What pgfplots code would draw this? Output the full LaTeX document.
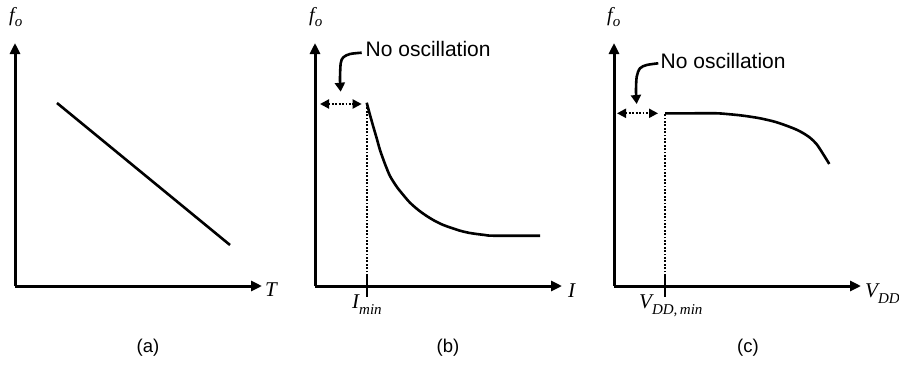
\documentclass[border=0pt]{standalone}
\usepackage{fontspec}
\setmainfont{Liberation Sans}
\newfontfamily\tms{Liberation Serif}
\usepackage{pgfplots}
\pgfplotsset{compat=1.18}
\usetikzlibrary{arrows.meta}
\pgfplotsset{panel/.style={
  x=1pt, y=1pt, xmin=0, xmax=247, ymin=0, ymax=243,
  axis lines*=left,
  axis line style={line width=3pt, -{Triangle[length=11pt,width=10pt]}},
  ytick=\empty, xtick=\empty, clip=false, anchor=south west,
  tick align=center, major tick length=21pt, xticklabels={},
  xtick style={line width=2.8pt, black},
}}
\tikzset{
  curve/.style={line width=2.6pt, black},
  dotv/.style={line width=2pt, dash pattern=on 1.8pt off 1.6pt},
  tip/.style={-{Triangle[length=9pt,width=10pt]}},
  dtip/.style={{Triangle[length=9pt,width=9pt]}-{Triangle[length=9pt,width=9pt]}},
}
\newcommand\fo{{\tms\itshape\fontsize{20}{20}\selectfont f\raisebox{-5pt}{\fontsize{15}{15}\selectfont o}}}
\newcommand\bigit[1]{{\tms\itshape\fontsize{21}{21}\selectfont #1}}
\newcommand\subit[1]{\raisebox{-6pt}{\tms\itshape\fontsize{15}{15}\selectfont #1}}
\newcommand\noosc{{\fontsize{21}{24}\selectfont No oscillation}}
\newcommand\plab[1]{{\fontsize{18.5}{20}\selectfont #1}}
\begin{document}
\begin{tikzpicture}
\useasboundingbox (0,0) rectangle (899pt,365pt);
% ---------- (a)
\begin{axis}[panel, at={(15pt,79pt)}]
\addplot[curve] coordinates {(42,183) (215,41)};
\node[anchor=base west, inner sep=0] at (axis cs:-6,265) {\fo};
\node[anchor=base west, inner sep=0] at (axis cs:250,-10) {\bigit{T}};
\node[anchor=center, inner sep=0] at (axis cs:133,-62) {\plab{(a)}};
\end{axis}
% ---------- (b)
\begin{axis}[panel, at={(315pt,79pt)}, xtick={52}]
\addplot[curve, smooth] coordinates {
 (51.7,183.3) (55,171) (58.3,159.3) (61.7,147.7) (65,136) (70,122) (75,110)
 (81.7,99.3) (88.3,91) (95,83.3) (103.3,76) (111.7,70) (120,65) (128.3,61)
 (136.7,58) (145,55.3) (153.3,53.3) (161.7,52) (170,51) (178.3,50.3) (225,50.3)};
\addplot[dotv] coordinates {(52,0) (52,183)};
\addplot[dotv, dtip] coordinates {(5,182) (46.7,182)};
\addplot[line width=2.6pt, smooth, tip] coordinates {
 (46.7,233.3) (35,232) (28.3,228.7) (25.7,222.7) (25,206) (25.7,194.3)};
\node[anchor=base west, inner sep=0] at (axis cs:50.5,229.3) {\noosc};
\node[anchor=base west, inner sep=0] at (axis cs:-6,265) {\fo};
\node[anchor=base west, inner sep=0] at (axis cs:253,-11) {\bigit{I}};
\node[anchor=base west, inner sep=0] at (axis cs:37,-22) {\bigit{I}\subit{min}};
\node[anchor=center, inner sep=0] at (axis cs:133,-62) {\plab{(b)}};
\end{axis}
% ---------- (c)
\begin{axis}[panel, at={(614pt,79pt)}, xtick={51}]
\addplot[curve, smooth] coordinates {
 (51,172.7) (79.3,172.7) (102.7,172.7) (116,171.7) (129.3,170.3) (146,167.7)
 (162.7,163.7) (179.3,157.7) (187.7,153.7) (196,148.3) (202.7,141.7)
 (209.3,131.7) (215.3,122)};
\addplot[dotv] coordinates {(51,0) (51,172.7)};
\addplot[dotv, dtip] coordinates {(3,172.7) (44,172.7)};
\addplot[line width=2.6pt, smooth, tip] coordinates {
 (44.3,222.7) (32.7,221) (26,217.7) (22.7,209.3) (22,194.3) (22.7,182)};
\node[anchor=base west, inner sep=0] at (axis cs:46.5,217.7) {\noosc};
\node[anchor=base west, inner sep=0] at (axis cs:-7,265) {\fo};
\node[anchor=base west, inner sep=0] at (axis cs:251,-11) {\bigit{V}\subit{DD}};
\node[anchor=base west, inner sep=0] at (axis cs:25,-22) {\bigit{V}\subit{DD,\,min}};
\node[anchor=center, inner sep=0] at (axis cs:134,-62) {\plab{(c)}};
\end{axis}
\end{tikzpicture}
\end{document}
